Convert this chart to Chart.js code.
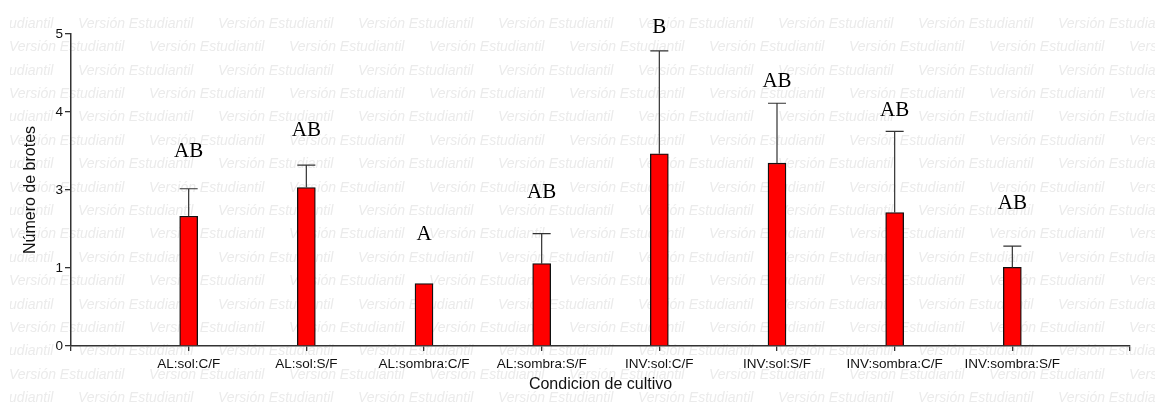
<!DOCTYPE html>
<html>
<head>
<meta charset="utf-8">
<script src="https://cdn.jsdelivr.net/npm/chart.js@4"></script>
<style>
  html,body{margin:0;padding:0;background:#fff;}
  #wrap{width:1155px;height:405px;}
</style>
</head>
<body>
<div id="wrap"><canvas id="brotesChart"></canvas></div>
<script>
const categories = ['AL:sol:C/F','AL:sol:S/F','AL:sombra:C/F','AL:sombra:S/F','INV:sol:C/F','INV:sol:S/F','INV:sombra:C/F','INV:sombra:S/F'];
const means = [2.08, 2.54, 1.00, 1.32, 3.08, 2.93, 2.14, 1.26];
const errors = [0.44, 0.36, 0, 0.48, 1.65, 0.96, 1.30, 0.34];
const letters = ['AB','AB','A','AB','B','AB','AB','AB'];
const letterAt = [3.11, 3.45, 1.78, 2.46, 5.11, 4.24, 3.78, 2.28];
const yTicks = [0, 1.25, 2.5, 3.75, 5];

// empty slot on each side, like the original plot
const labels = ['', ...categories, ''];
const barData = [null, ...means, null];

const axisFont = {family:'"Liberation Sans", Arial, sans-serif', size:13.5};
const titleFont = {family:'"Liberation Sans", Arial, sans-serif', size:16};

const watermark = {
  id:'watermark',
  beforeDraw(chart){
    const ctx = chart.ctx;
    ctx.save();
    ctx.fillStyle = '#fff';
    ctx.fillRect(0, 0, chart.width, chart.height);
    ctx.beginPath();
    ctx.rect(10, 0, chart.width - 10, chart.height);
    ctx.clip();
    ctx.fillStyle = '#ebebeb';
    ctx.font = 'italic 14px "Liberation Sans", Arial, sans-serif';
    ctx.textBaseline = 'middle';
    for (let r = 0; r < 17; r++) {
      const y = 24 + r * 23.4;
      const x0 = r % 2 === 0 ? -62 : 9;
      for (let x = x0; x < chart.width; x += 140) ctx.fillText('Versión Estudiantil', x, y);
    }
    ctx.restore();
  }
};

const errorBars = {
  id:'errorBars',
  afterDatasetsDraw(chart){
    const ctx = chart.ctx;
    const y = chart.scales.y;
    const meta = chart.getDatasetMeta(0);
    ctx.save();
    categories.forEach((c, i) => {
      const bar = meta.data[i + 1];
      const half = bar.width / 2;
      if (errors[i] > 0) {
        const top = y.getPixelForValue(means[i] + errors[i]);
        ctx.strokeStyle = '#333';
        ctx.lineWidth = 1.2;
        ctx.beginPath();
        ctx.moveTo(bar.x, bar.y);
        ctx.lineTo(bar.x, top);
        ctx.moveTo(bar.x - half, top);
        ctx.lineTo(bar.x + half, top);
        ctx.stroke();
      }
      ctx.fillStyle = '#000';
      ctx.font = '21px "Liberation Serif", "Times New Roman", serif';
      ctx.textAlign = 'center';
      ctx.textBaseline = 'middle';
      ctx.fillText(letters[i], bar.x, y.getPixelForValue(letterAt[i]));
    });
    ctx.restore();
  }
};

new Chart(document.getElementById('brotesChart'), {
  type:'bar',
  data:{
    labels:labels,
    datasets:[{data:barData, backgroundColor:'#ff0000', borderColor:'#111', borderWidth:1.3, barThickness:18}]
  },
  options:{
    responsive:true, maintainAspectRatio:false, animation:false,
    layout:{padding:{top:34, right:25, left:0, bottom:0}},
    plugins:{legend:{display:false}, tooltip:{enabled:false}},
    scales:{
      x:{
        offset:false,
        grid:{offset:false, drawOnChartArea:false, tickLength:5, tickColor:'#333', lineWidth:1.3},
        border:{color:'#333', width:1.5},
        ticks:{font:axisFont, color:'#111', padding:5, maxRotation:0, autoSkip:false},
        title:{display:true, text:'Condicion de cultivo', font:titleFont, color:'#111', padding:{top:11, bottom:11}},
        afterFit:s=>{ s.height = 59; }
      },
      y:{
        min:0, max:5,
        afterBuildTicks:s=>{ s.ticks = yTicks.map(v=>({value:v})); },
        grid:{drawOnChartArea:false, tickLength:6, tickColor:'#333', lineWidth:1.3},
        border:{color:'#333', width:1.5},
        ticks:{font:axisFont, color:'#111', padding:2, callback:v=>Math.round(v)},
        title:{display:true, text:'Número de brotes', font:titleFont, color:'#111', padding:{top:21, bottom:21}},
        afterFit:s=>{ s.width = 71; }
      }
    }
  },
  plugins:[watermark, errorBars]
});
</script>
</body>
</html>
